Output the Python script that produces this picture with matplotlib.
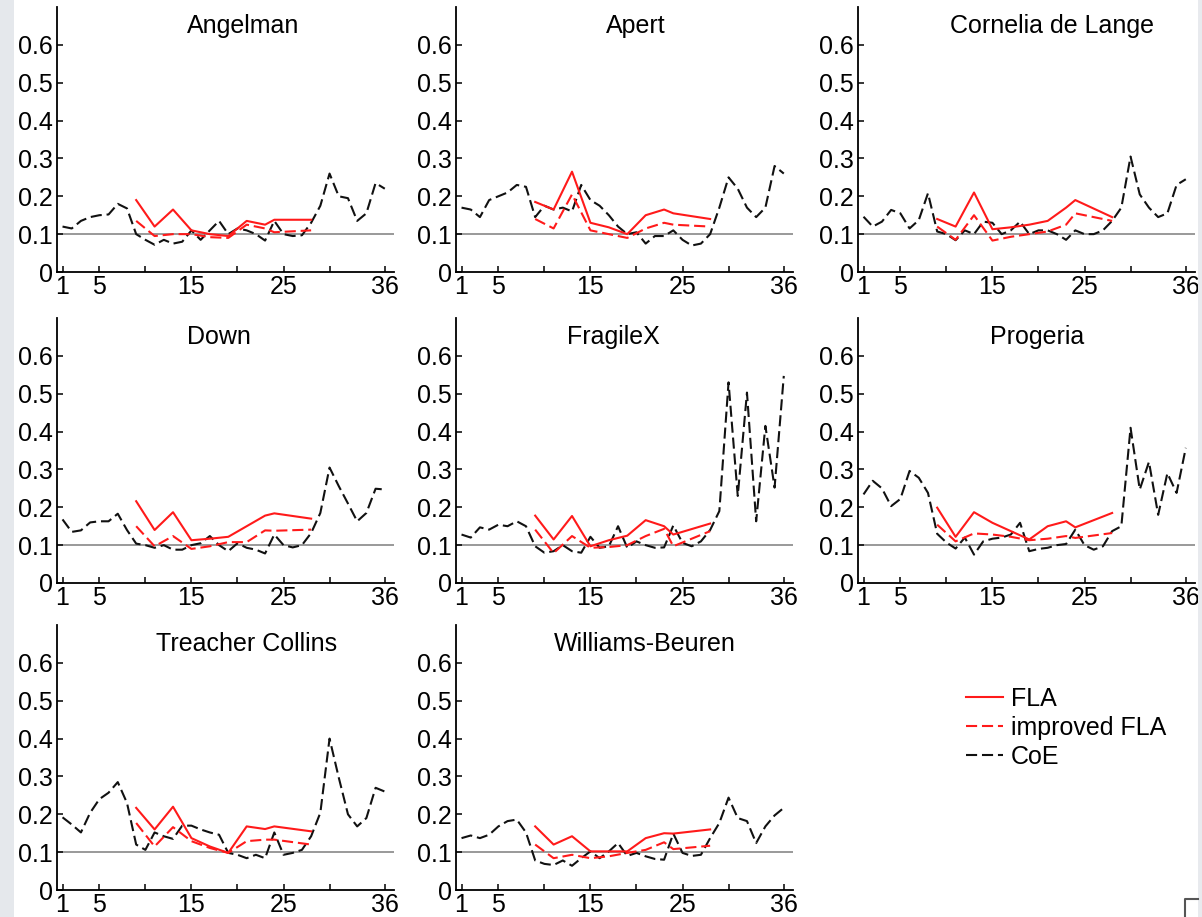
import matplotlib
matplotlib.use("Agg")
import matplotlib.pyplot as plt
from matplotlib.patches import Rectangle
from matplotlib.lines import Line2D

plt.rcParams['font.family'] = ['Liberation Sans', 'DejaVu Sans']
plt.rcParams['lines.scale_dashes'] = False

# x positions of the samples
coe_x = list(range(1, 37))
fla_x = [9, 11, 13, 15, 17, 19, 21, 23, 24, 28]

# Angelman
angelman_fla = [0.19, 0.12, 0.165, 0.11, 0.10, 0.095, 0.135, 0.125, 0.138, 0.138]
angelman_imp = [0.135, 0.095, 0.10, 0.10, 0.092, 0.09, 0.125, 0.115, 0.105, 0.11]
angelman_coe = [0.12, 0.115, 0.135, 0.145, 0.15, 0.152, 0.18, 0.168, 0.10, 0.085,
                0.072, 0.085, 0.075, 0.08, 0.11, 0.085, 0.11, 0.135, 0.10, 0.115,
                0.11, 0.10, 0.083, 0.135, 0.10, 0.095, 0.097, 0.13, 0.175, 0.26,
                0.20, 0.195, 0.135, 0.155, 0.235, 0.22]

# Apert
apert_fla = [0.185, 0.165, 0.265, 0.13, 0.118, 0.10, 0.15, 0.165, 0.155, 0.14]
apert_imp = [0.14, 0.115, 0.205, 0.11, 0.10, 0.09, 0.115, 0.13, 0.125, 0.12]
apert_coe = [0.17, 0.165, 0.145, 0.19, 0.20, 0.21, 0.23, 0.225, 0.145, 0.175,
             0.165, 0.17, 0.16, 0.23, 0.19, 0.175, 0.15, 0.12, 0.10, 0.105,
             0.075, 0.095, 0.095, 0.11, 0.085, 0.07, 0.075, 0.10, 0.17, 0.25,
             0.22, 0.17, 0.145, 0.17, 0.28, 0.26]

# Cornelia de Lange
cornelia_fla = [0.14, 0.12, 0.21, 0.113, 0.118, 0.125, 0.135, 0.17, 0.19, 0.145]
cornelia_imp = [0.12, 0.085, 0.15, 0.083, 0.093, 0.10, 0.107, 0.125, 0.155, 0.135]
cornelia_coe = [0.146, 0.12, 0.133, 0.164, 0.155, 0.115, 0.137, 0.208, 0.107, 0.10,
                0.084, 0.11, 0.10, 0.133, 0.13, 0.10, 0.11, 0.133, 0.10, 0.11,
                0.11, 0.10, 0.085, 0.11, 0.10, 0.10, 0.11, 0.135, 0.17, 0.305,
                0.205, 0.17, 0.145, 0.155, 0.23, 0.245]

# Down
down_fla = [0.216, 0.14, 0.187, 0.113, 0.117, 0.122, 0.15, 0.178, 0.184, 0.17]
down_imp = [0.15, 0.097, 0.124, 0.09, 0.097, 0.108, 0.108, 0.139, 0.138, 0.141]
down_coe = [0.168, 0.135, 0.139, 0.16, 0.163, 0.163, 0.183, 0.14, 0.104, 0.10,
            0.093, 0.10, 0.088, 0.088, 0.10, 0.105, 0.124, 0.10, 0.084, 0.105,
            0.093, 0.088, 0.078, 0.128, 0.10, 0.094, 0.10, 0.132, 0.185, 0.305,
            0.256, 0.21, 0.163, 0.185, 0.249, 0.247]

# FragileX
fragx_fla = [0.178, 0.115, 0.177, 0.097, 0.113, 0.125, 0.166, 0.15, 0.128, 0.157]
fragx_imp = [0.141, 0.079, 0.124, 0.093, 0.095, 0.10, 0.124, 0.143, 0.097, 0.137]
fragx_coe = [0.128, 0.12, 0.147, 0.141, 0.154, 0.15, 0.163, 0.15, 0.097, 0.08,
             0.084, 0.10, 0.084, 0.08, 0.122, 0.093, 0.097, 0.15, 0.093, 0.11,
             0.10, 0.093, 0.094, 0.152, 0.106, 0.097, 0.11, 0.14, 0.19, 0.53,
             0.23, 0.503, 0.163, 0.415, 0.252, 0.547]

# Progeria
progeria_fla = [0.199, 0.122, 0.187, 0.159, 0.137, 0.115, 0.15, 0.163, 0.147, 0.185]
progeria_imp = [0.154, 0.11, 0.131, 0.128, 0.122, 0.113, 0.117, 0.124, 0.119, 0.132]
progeria_coe = [0.234, 0.27, 0.25, 0.203, 0.222, 0.296, 0.278, 0.238, 0.13, 0.107,
                0.091, 0.12, 0.075, 0.11, 0.117, 0.12, 0.128, 0.159, 0.084, 0.09,
                0.093, 0.10, 0.103, 0.141, 0.10, 0.088, 0.097, 0.137, 0.15, 0.41,
                0.247, 0.32, 0.18, 0.29, 0.238, 0.357]

# Treacher Collins
treacher_fla = [0.217, 0.16, 0.22, 0.137, 0.115, 0.098, 0.168, 0.161, 0.168, 0.155]
treacher_imp = [0.177, 0.115, 0.166, 0.129, 0.111, 0.098, 0.129, 0.133, 0.133, 0.12]
treacher_coe = [0.192, 0.173, 0.152, 0.204, 0.24, 0.257, 0.285, 0.23, 0.12, 0.106,
                0.152, 0.142, 0.135, 0.17, 0.17, 0.16, 0.152, 0.146, 0.098, 0.093,
                0.084, 0.093, 0.084, 0.152, 0.093, 0.098, 0.106, 0.142, 0.204, 0.40,
                0.297, 0.20, 0.168, 0.19, 0.27, 0.26]

# Williams-Beuren
williams_fla = [0.168, 0.12, 0.142, 0.102, 0.102, 0.102, 0.137, 0.15, 0.149, 0.16]
williams_imp = [0.12, 0.084, 0.093, 0.084, 0.089, 0.098, 0.106, 0.126, 0.108, 0.117]
williams_coe = [0.137, 0.144, 0.137, 0.146, 0.168, 0.182, 0.186, 0.152, 0.078, 0.069,
                0.066, 0.078, 0.064, 0.084, 0.102, 0.084, 0.102, 0.124, 0.09, 0.098,
                0.089, 0.082, 0.08, 0.149, 0.098, 0.09, 0.093, 0.137, 0.177, 0.244,
                0.19, 0.182, 0.124, 0.168, 0.197, 0.217]

names = ['Angelman', 'Apert', 'Cornelia de Lange', 'Down', 'FragileX',
         'Progeria', 'Treacher Collins', 'Williams-Beuren']
panels = [
    (angelman_fla, angelman_imp, angelman_coe),
    (apert_fla, apert_imp, apert_coe),
    (cornelia_fla, cornelia_imp, cornelia_coe),
    (down_fla, down_imp, down_coe),
    (fragx_fla, fragx_imp, fragx_coe),
    (progeria_fla, progeria_imp, progeria_coe),
    (treacher_fla, treacher_imp, treacher_coe),
    (williams_fla, williams_imp, williams_coe),
]
# where each panel name sits (axes fraction)
title_x = [0.553, 0.533, 0.575, 0.482, 0.468, 0.533, 0.562, 0.559]

W, H = 1202, 917
fig = plt.figure(figsize=(W / 100, H / 100), dpi=100)
fig.patch.set_facecolor('white')

# screenshot edges
fig.patches.append(Rectangle((0, 0), 14 / W, 1, transform=fig.transFigure,
                             facecolor='#e5e8ec', edgecolor='none', zorder=0))
fig.patches.append(Rectangle((1198 / W, 0), 4 / W, 1, transform=fig.transFigure,
                             facecolor='#e8eaee', edgecolor='none', zorder=0))
fig.lines.append(Line2D([1198 / W, 1185 / W, 1185 / W], [1 - 899 / H, 1 - 899 / H, 0],
                        transform=fig.transFigure, color='#555555', lw=1.5))

lefts = [57, 456, 858]
bottoms = [272, 583, 890]
ax_w, ax_h = 337, 265

lines = None
for i, (name, (fla, imp, coe)) in enumerate(zip(names, panels)):
    r, c = divmod(i, 3)
    ax = fig.add_axes([lefts[c] / W, 1 - bottoms[r] / H, ax_w / W, ax_h / H])
    ax.axhline(0.1, color='#999999', lw=1.4, zorder=1)
    l1, = ax.plot(fla_x, fla, color='#ff1a1a', lw=1.5, label='FLA', zorder=3)
    l2, = ax.plot(fla_x, imp, color='#ff1a1a', lw=1.5, dashes=(8, 3.5),
                  label='improved FLA', zorder=3)
    l3, = ax.plot(coe_x, coe, color='#111111', lw=1.5, dashes=(8, 3.5),
                  label='CoE', zorder=2)
    if lines is None:
        lines = [l1, l2, l3]
    ax.set_xlim(0.4, 37)
    ax.set_ylim(0, 0.7)
    ax.set_xticks([1, 5, 10, 15, 20, 25, 30, 36])
    ax.set_xticklabels(['1', '5', '', '15', '', '25', '', '36'])
    ax.set_yticks([0, 0.1, 0.2, 0.3, 0.4, 0.5, 0.6])
    ax.set_yticklabels(['0', '0.1', '0.2', '0.3', '0.4', '0.5', '0.6'])
    ax.tick_params(direction='in', length=4, width=1.1, labelsize=18,
                   colors='black')
    ax.tick_params(axis='x', pad=2.5)
    ax.tick_params(axis='y', pad=3)
    for s in ['top', 'right']:
        ax.spines[s].set_visible(False)
    for s in ['left', 'bottom']:
        ax.spines[s].set_linewidth(1.3)
    ax.text(title_x[i], 0.65, name, transform=ax.get_yaxis_transform(),
            ha='center', va='center', fontsize=18)

fig.legend(lines, ['FLA', 'improved FLA', 'CoE'], loc='center left',
           bbox_to_anchor=(966 / W, 1 - 728 / H), frameon=False, fontsize=18,
           handlelength=1.5, handletextpad=0.3, labelspacing=0.2,
           borderpad=0, borderaxespad=0)

fig.savefig('out.png', dpi=100, facecolor='white')
